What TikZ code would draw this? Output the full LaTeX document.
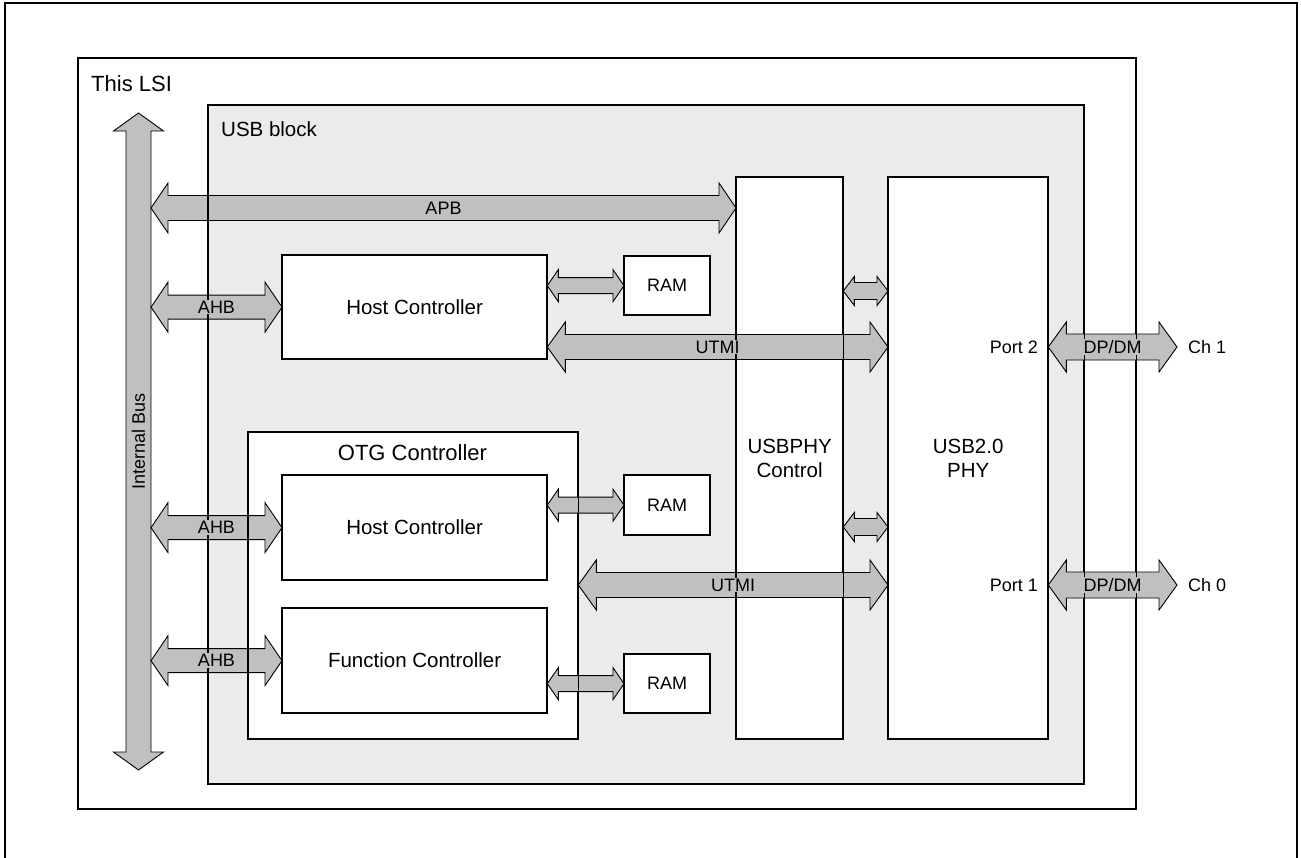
\documentclass[tikz,border=0pt]{standalone}
\usepackage{fontspec}
\setmainfont{Liberation Sans}
\usetikzlibrary{calc}
\definecolor{busgray}{HTML}{C0C0C0}
\definecolor{blockgray}{HTML}{EBEBEB}
\tikzset{
  lbl/.style={font=\fontsize{18}{21}\selectfont, inner sep=0pt},
  buslbl/.style={lbl, fill=busgray, inner sep=1pt},
  ttl/.style={font=\fontsize{20.5}{24}\selectfont, align=center, inner sep=0pt},
  bigttl/.style={font=\fontsize{22}{26}\selectfont, inner sep=0pt},
  blk/.style={draw=black, line width=1.3pt, fill=white, anchor=north west, inner sep=0pt},
  edge/.style={draw=black, line width=1.3pt},
  busarrow/.style={draw=black, line width=0.9pt, fill=busgray, line join=miter},
}
% horizontal double block arrow: #1 left end, #2 right end, #3 shaft half, #4 head half, #5 head length
\newcommand{\hbus}[5]{%
  \draw[busarrow] let \p1=(#1), \p2=(#2) in
   (\x1,\y1) -- (\x1+#5pt,\y1+#4pt) -- (\x1+#5pt,\y1+#3pt) -- (\x2-#5pt,\y1+#3pt) -- (\x2-#5pt,\y1+#4pt)
   -- (\x2,\y1) -- (\x2-#5pt,\y1-#4pt) -- (\x2-#5pt,\y1-#3pt) -- (\x1+#5pt,\y1-#3pt) -- (\x1+#5pt,\y1-#4pt) -- cycle;}
% vertical double block arrow: #1 top end, #2 bottom end
\newcommand{\vbus}[5]{%
  \draw[busarrow] let \p1=(#1), \p2=(#2) in
   (\x1,\y1) -- (\x1+#4pt,\y1-#5pt) -- (\x1+#3pt,\y1-#5pt) -- (\x1+#3pt,\y2+#5pt) -- (\x1+#4pt,\y2+#5pt)
   -- (\x1,\y2) -- (\x1-#4pt,\y2+#5pt) -- (\x1-#3pt,\y2+#5pt) -- (\x1-#3pt,\y1-#5pt) -- (\x1-#4pt,\y1-#5pt) -- cycle;}
\begin{document}
\begin{tikzpicture}[x=1pt,y=-1pt]
\useasboundingbox (0,0) rectangle (1301,857);
% outer frame
\draw[line width=2pt] (5,870) -- (5,3) -- (1297,3) -- (1297,870);

% blocks (fills)
\node[blk, minimum width=1057pt, minimum height=750pt] (lsi) at (78,58) {};
\node[blk, fill=blockgray, minimum width=875pt, minimum height=678pt] (usb) at (208,105) {};
\node[blk, minimum width=264pt, minimum height=103pt] (host1) at (282,255) {};
\node[blk, minimum width=85pt, minimum height=58pt] (ram1) at (624,256) {};
\node[blk, minimum width=106pt, minimum height=561pt] (ctrl) at (736,177) {};
\node[blk, minimum width=159pt, minimum height=561pt] (phy) at (888,177) {};
\node[blk, minimum width=329pt, minimum height=306pt] (otg) at (248,432) {};
\node[blk, minimum width=264pt, minimum height=104pt] (host2) at (282,475) {};
\node[blk, minimum width=85pt, minimum height=59pt] (ram2) at (624,475) {};
\node[blk, minimum width=264pt, minimum height=104pt] (func) at (282,608) {};
\node[blk, minimum width=85pt, minimum height=58pt] (ram3) at (624,654) {};

% helper coordinates
\coordinate (ibtop) at (138.5,113);
\coordinate (ibbot) at (138.5,770);
\coordinate (ibR) at (151,0);
\coordinate (apbY) at (0,208);
\coordinate (s1) at (0,291);
\coordinate (s2) at (0,527);
\coordinate (u1) at (0,347);
\coordinate (u2) at (0,585);

% side labels
\node[lbl, anchor=west] (ch1) at (1188,347) {Ch 1};
\node[lbl, anchor=west] (ch0) at (1188,585) {Ch 0};
\coordinate (ch1end) at (1177,347);
\coordinate (ch0end) at (1177,585);

% bus arrows
\vbus{ibtop}{ibbot}{12.5}{25}{18}
\hbus{ibR |- apbY}{ctrl.west |- apbY}{12.5}{25}{17}
\hbus{ibR |- host1.west}{host1.west}{12}{25}{17}
\hbus{ibR |- host2.west}{host2.west}{12}{25}{17}
\hbus{ibR |- func.west}{func.west}{12}{25}{17}
\hbus{host1.east |- ram1.west}{ram1.west}{8}{16}{11}
\hbus{host2.east |- ram2.west}{ram2.west}{8}{16}{11}
\hbus{func.east |- ram3.west}{ram3.west}{8}{16}{11}
\hbus{ctrl.east |- s1}{phy.west |- s1}{8.5}{14.5}{11}
\hbus{ctrl.east |- s2}{phy.west |- s2}{8.5}{14.5}{11}
\hbus{host1.east |- u1}{phy.west |- u1}{12.5}{25}{18}
\hbus{otg.east |- u2}{phy.west |- u2}{12.5}{25}{18}
\hbus{phy.east |- u1}{ch1end}{13}{25}{18}
\hbus{phy.east |- u2}{ch0end}{13}{25}{18}

% borders on top
\foreach \n in {lsi,usb,host1,ram1,ctrl,phy,otg,host2,ram2,func,ram3}
  \draw[edge] (\n.north west) rectangle (\n.south east);

% texts
\node[bigttl, anchor=base west] at (91,91) {This LSI};
\node[ttl, anchor=base west] at (221,136) {USB block};
\node[bigttl] at (412.5,453) {OTG Controller};
\node[ttl] at (host1.center) {Host Controller};
\node[ttl] at (host2.center) {Host Controller};
\node[ttl] at (func.center) {Function Controller};
\node[lbl] at (ram1.center) {RAM};
\node[lbl] at (ram2.center) {RAM};
\node[lbl] at (ram3.center) {RAM};
\node[ttl] at (ctrl.center) {USBPHY\\Control};
\node[ttl] at (phy.center) {USB2.0\\PHY};
\node[buslbl, rotate=90] at ($(ibtop)!0.5!(ibbot)$) {Internal Bus};
\node[buslbl] at ($(ibR |- apbY)!0.5!(ctrl.west |- apbY)$) {APB};
\node[buslbl] at ($(ibR |- host1.west)!0.5!(host1.west)$) {AHB};
\node[buslbl] at ($(ibR |- host2.west)!0.5!(host2.west)$) {AHB};
\node[buslbl] at ($(ibR |- func.west)!0.5!(func.west)$) {AHB};
\node[buslbl] at ($(host1.east |- u1)!0.5!(phy.west |- u1)$) {UTMI};
\node[buslbl] at ($(otg.east |- u2)!0.5!(phy.west |- u2)$) {UTMI};
\node[buslbl] at ($(phy.east |- u1)!0.5!(ch1end)$) {DP/DM};
\node[buslbl] at ($(phy.east |- u2)!0.5!(ch0end)$) {DP/DM};
\node[lbl, anchor=east] at (1038,347) {Port 2};
\node[lbl, anchor=east] at (1038,585) {Port 1};
\end{tikzpicture}
\end{document}
